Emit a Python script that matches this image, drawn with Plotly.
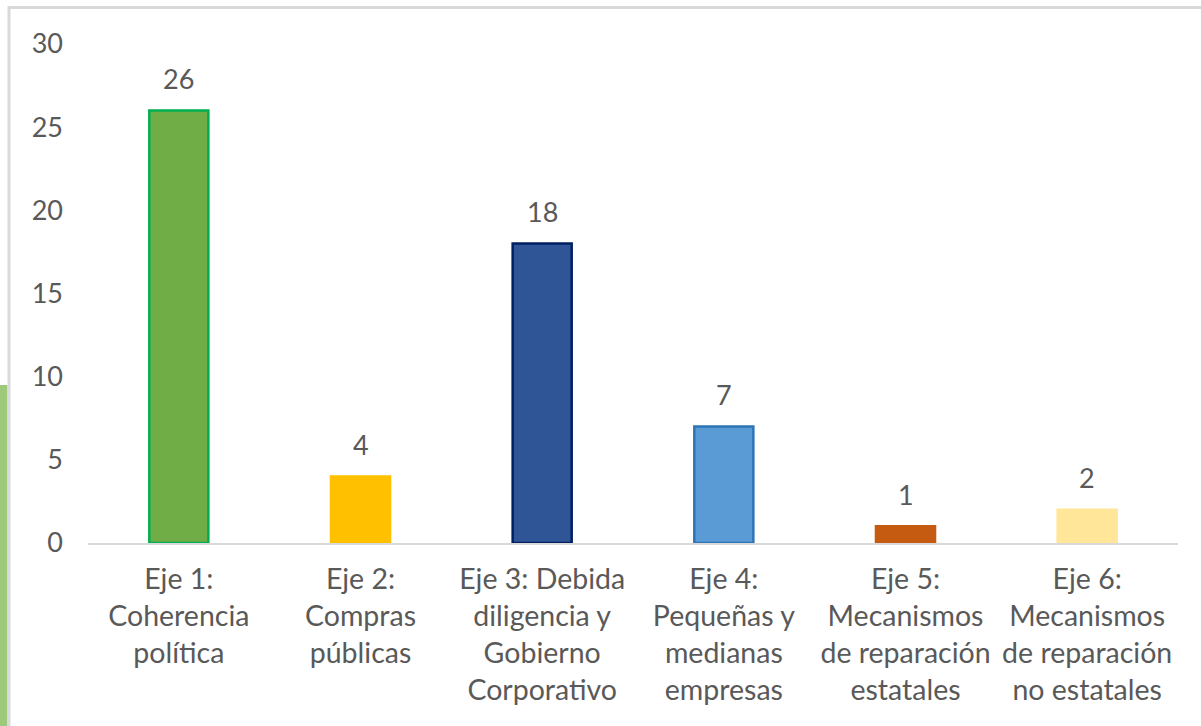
import plotly.graph_objects as go

categories = [
    "Eje 1:<br>Coherencia<br>política",
    "Eje 2:<br>Compras<br>públicas",
    "Eje 3: Debida<br>diligencia y<br>Gobierno<br>Corporativo",
    "Eje 4:<br>Pequeñas y<br>medianas<br>empresas",
    "Eje 5:<br>Mecanismos<br>de reparación<br>estatales",
    "Eje 6:<br>Mecanismos<br>de reparación<br>no estatales",
]
values = [26, 4, 18, 7, 1, 2]
fill_colors = ["#70ad47", "#ffc000", "#2f5597", "#5b9bd5", "#c55a11", "#ffe699"]
line_colors = ["#00b050", "#ffc000", "#002060", "#2e75b6", "#c55a11", "#ffe699"]
y_ticks = [0, 5, 10, 15, 20, 25, 30]

W, H = 1201, 726
L, R, T, B = 88, 23, 44, 183
pw, ph = W - L - R, H - T - B

def px(x):
    return (x - L) / pw

def py(y):
    return (H - B - y) / ph

FONT = "Lato"
GRAY = "#595959"

fig = go.Figure(go.Bar(
    x=categories, y=values,
    marker=dict(color=fill_colors, line=dict(color=line_colors, width=2.5)),
    cliponaxis=False,
))

for c, v in zip(categories, values):
    fig.add_annotation(
        x=c, y=v, xref="x", yref="y", text=str(v), showarrow=False,
        yanchor="middle", yshift=32,
        font=dict(family=FONT, size=27, color=GRAY),
    )

fig.update_layout(
    width=W, height=H,
    margin=dict(l=L, r=R, t=T, b=B),
    paper_bgcolor="white", plot_bgcolor="white",
    bargap=0.675, showlegend=False,
    font=dict(family=FONT, color=GRAY),
    shapes=[
        dict(type="line", xref="paper", yref="paper", x0=px(8), x1=px(W + 5), y0=py(7.5), y1=py(7.5),
             line=dict(color="#d9d9d9", width=3)),
        dict(type="line", xref="paper", yref="paper", x0=px(9), x1=px(9), y0=py(6), y1=py(H + 5),
             line=dict(color="#d9d9d9", width=3)),
        dict(type="rect", xref="paper", yref="paper", x0=px(-1), x1=px(7.5), y0=py(385), y1=py(H + 5),
             fillcolor="#9dc97b", line=dict(width=0), layer="below"),
    ],
)
fig.update_yaxes(
    range=[0, 30], tickvals=y_ticks, showgrid=False, zeroline=False, showline=False,
    tickfont=dict(family=FONT, size=27, color=GRAY), ticklabelstandoff=24,
)
fig.update_xaxes(
    showline=True, linecolor="#d9d9d9", linewidth=2, showgrid=False,
    tickfont=dict(family=FONT, size=28.5, color=GRAY), ticklabelstandoff=10,
)
fig.write_html("out.html", config={"displayModeBar": False},
               post_script="document.body.style.margin='0px';")
